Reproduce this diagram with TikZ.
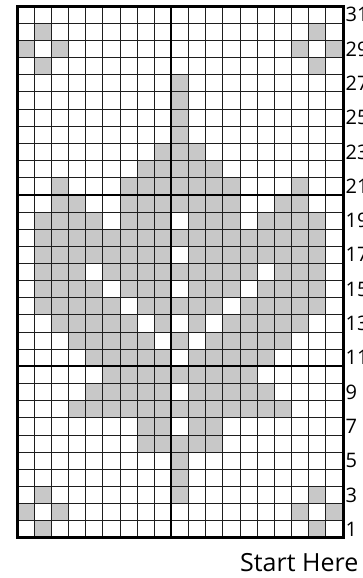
\documentclass[tikz,border=0pt]{standalone}
\usepackage{fontspec}
\setmainfont{Open Sans}
\definecolor{cellgray}{RGB}{200,200,200}
\definecolor{gridline}{RGB}{30,30,30}
\tikzset{
  cellfill/.style={fill=cellgray},
  thinline/.style={draw=gridline,line width=0.9pt},
  thickline/.style={draw=black,line width=2pt},
  borderline/.style={draw=black,line width=3pt},
  rowlabel/.style={anchor=west,inner sep=0pt,font=\fontsize{20}{20}\selectfont},
  startlabel/.style={anchor=base east,inner sep=0pt,font=\fontsize{25}{25}\selectfont}
}
\newcommand\knitrow[2]{\foreach \c in {#2}{\fill[cellfill] ({17+(\c-1)*\s},{40+(#1-1)*\s}) rectangle ++(\s,\s);}}
\begin{document}
\begin{tikzpicture}[x=1pt,y=1pt]
\useasboundingbox (0,0) rectangle (363,578);
\def\s{17.16}
% gray cells
\knitrow{1}{2,18}
\knitrow{2}{1,3,17,19}
\knitrow{3}{2,10,18}
\knitrow{4}{10}
\knitrow{5}{10}
\knitrow{6}{8,9,10,11,12}
\knitrow{7}{8,9,11,12}
\knitrow{8}{4,5,6,7,8,9,10,11,12,13,14,15,16}
\knitrow{9}{5,6,7,8,9,11,12,13,14,15}
\knitrow{10}{6,7,8,9,10,11,12,13,14}
\knitrow{11}{5,6,7,8,9,11,12,13,14,15}
\knitrow{12}{4,5,6,7,8,10,12,13,14,15,16}
\knitrow{13}{3,4,5,6,7,9,11,13,14,15,16,17}
\knitrow{14}{2,3,4,5,6,8,9,10,11,12,14,15,16,17,18}
\knitrow{15}{2,3,4,5,7,8,9,11,12,13,15,16,17,18}
\knitrow{16}{2,3,4,6,7,8,9,10,11,12,13,14,16,17,18}
\knitrow{17}{2,3,4,5,6,7,8,9,11,12,13,14,15,16,17,18}
\knitrow{18}{2,3,4,5,6,7,8,9,10,11,12,13,14,15,16,17,18}
\knitrow{19}{2,3,4,5,7,8,9,11,12,13,15,16,17,18}
\knitrow{20}{3,4,7,8,9,10,11,12,13,16,17}
\knitrow{21}{3,7,8,9,10,11,12,13,17}
\knitrow{22}{8,9,10,11,12}
\knitrow{23}{9,10,11}
\knitrow{24}{10}
\knitrow{25}{10}
\knitrow{26}{10}
\knitrow{27}{10}
\knitrow{28}{2,18}
\knitrow{29}{1,3,17,19}
\knitrow{30}{2,18}
% thin grid
\foreach \i in {1,...,18} \draw[thinline] ({17+\i*\s},40) -- ++(0,{31*\s});
\foreach \j in {1,...,30} \draw[thinline] (17,{40+\j*\s}) -- ++({19*\s},0);
% thick lines every ten stitches / rows
\draw[thickline] ({17+9*\s},40) -- ++(0,{31*\s});
\draw[thickline] (17,{40+10*\s}) -- ++({19*\s},0);
\draw[thickline] (17,{40+20*\s}) -- ++({19*\s},0);
% border
\draw[borderline] (17,40) rectangle ({17+19*\s},{40+31*\s});
% row numbers
\foreach \r in {1,3,...,31} \node[rowlabel] (lab\r) at (345.5,{40+(\r-0.5)*\s}) {\r};
\node[startlabel] (start) at (358.5,6.3) {Start Here};
\end{tikzpicture}
\end{document}
